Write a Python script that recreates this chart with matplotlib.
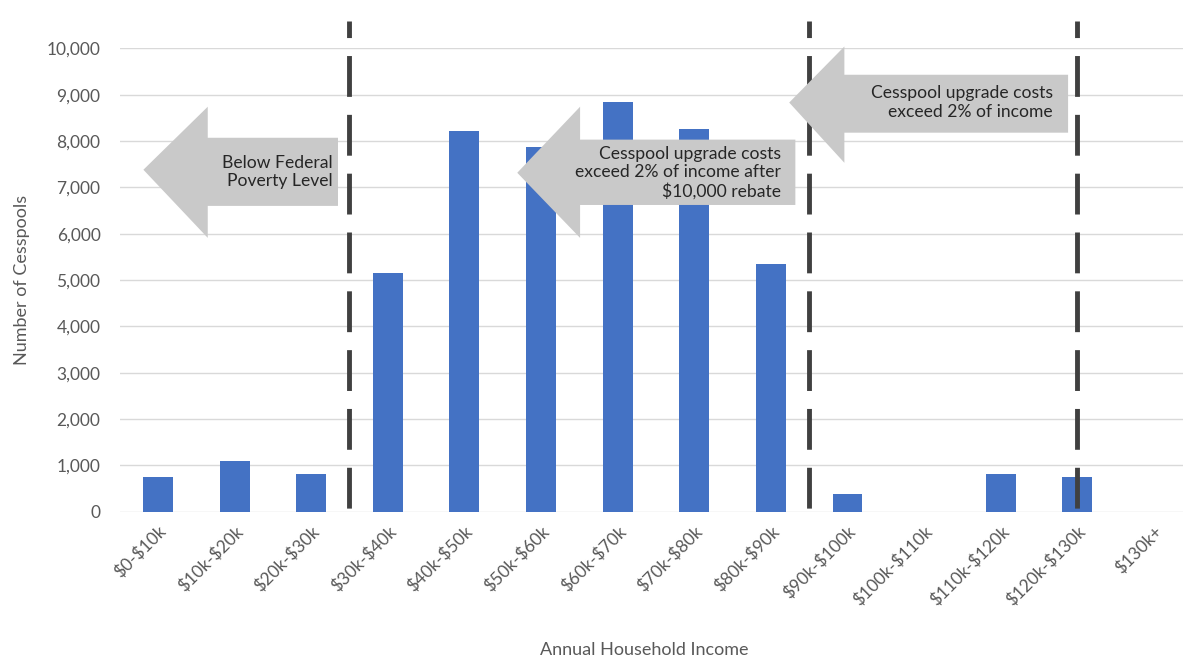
import matplotlib
matplotlib.use('Agg')
import matplotlib.pyplot as plt
from matplotlib.patches import Polygon

plt.rcParams['font.family'] = ['Lato', 'DejaVu Sans']
plt.rcParams['text.parse_math'] = False  # keep the $ signs literal

categories = ['$0-$10k', '$10k-$20k', '$20k-$30k', '$30k-$40k', '$40k-$50k',
              '$50k-$60k', '$60k-$70k', '$70k-$80k', '$80k-$90k', '$90k-$100k',
              '$100k-$110k', '$110k-$120k', '$120k-$130k', '$130k+']
cesspools = [760, 1095, 820, 5150, 8210, 7870, 8840, 8250, 5340, 390,
             0, 810, 760, 0]

# threshold positions (category index)
thresholds = [2.5, 8.5, 12.0]

# arrow boxes: (tip x, tip y, head base x, head top, head bottom, shaft top, shaft bottom, right x)
arrows = [
    (-0.19, 7380, 0.65, 8740, 5910, 8070, 6600, 2.35),
    (4.69, 7315, 5.51, 8740, 5910, 8030, 6620, 8.32),
    (8.24, 8830, 8.96, 10040, 7530, 9430, 8180, 11.88),
]
arrow_text = ['Below Federal\nPoverty Level',
              'Cesspool upgrade costs\nexceed 2% of income after\n$10,000 rebate',
              'Cesspool upgrade costs\nexceed 2% of income']
text_x = [2.28, 8.13, 11.68]
text_y = [7330, 7315, 8830]

fig = plt.figure(figsize=(11.83, 6.65), dpi=100)
ax = fig.add_axes([0.1014, 0.2305, 0.8986, 0.6968])

x = list(range(len(categories)))
ax.bar(x, cesspools, width=0.39, color='#4472C4', zorder=2)

ax.set_xlim(-0.496, 13.38)
ax.set_ylim(0, 10000)
ax.set_yticks(range(0, 10001, 1000))
ax.set_yticklabels([f'{v:,}' for v in range(0, 10001, 1000)])
ax.set_xticks(x)
ax.set_xticklabels(categories, rotation=45, ha='right', rotation_mode='anchor')
ax.tick_params(axis='both', length=0, labelsize=12.5, labelcolor='#595959')
ax.tick_params(axis='x', pad=8)
ax.tick_params(axis='y', pad=14)
ax.grid(axis='y', color='#d9d9d9', lw=1, zorder=0)
ax.set_axisbelow(True)
for s in ax.spines.values():
    s.set_visible(False)

ax.set_ylabel('Number of Cesspools', fontsize=13, color='#595959', labelpad=12)
fig.text(0.545, 0.022, 'Annual Household Income', fontsize=13, color='#595959',
         ha='center', va='center')

for t in thresholds:
    ax.plot([t, t], [0, 10580], color='#404040', lw=3.5,
            linestyle=(11.3, (8.4, 3.7)), clip_on=False, zorder=4,
            dash_capstyle='butt')

for (tx, ty, hx, ht, hb, st, sb, rx), txt, lx, ly in zip(arrows, arrow_text, text_x, text_y):
    pts = [(tx, ty), (hx, ht), (hx, st), (rx, st), (rx, sb), (hx, sb), (hx, hb)]
    ax.add_patch(Polygon(pts, closed=True, facecolor='#c9c9c9', edgecolor='none',
                         zorder=5, clip_on=False))
    ax.text(lx, ly, txt, ha='right', va='center', multialignment='right',
            fontsize=12.6, color='#262626', zorder=6, linespacing=1.2)

fig.savefig('out.png', dpi=100)
